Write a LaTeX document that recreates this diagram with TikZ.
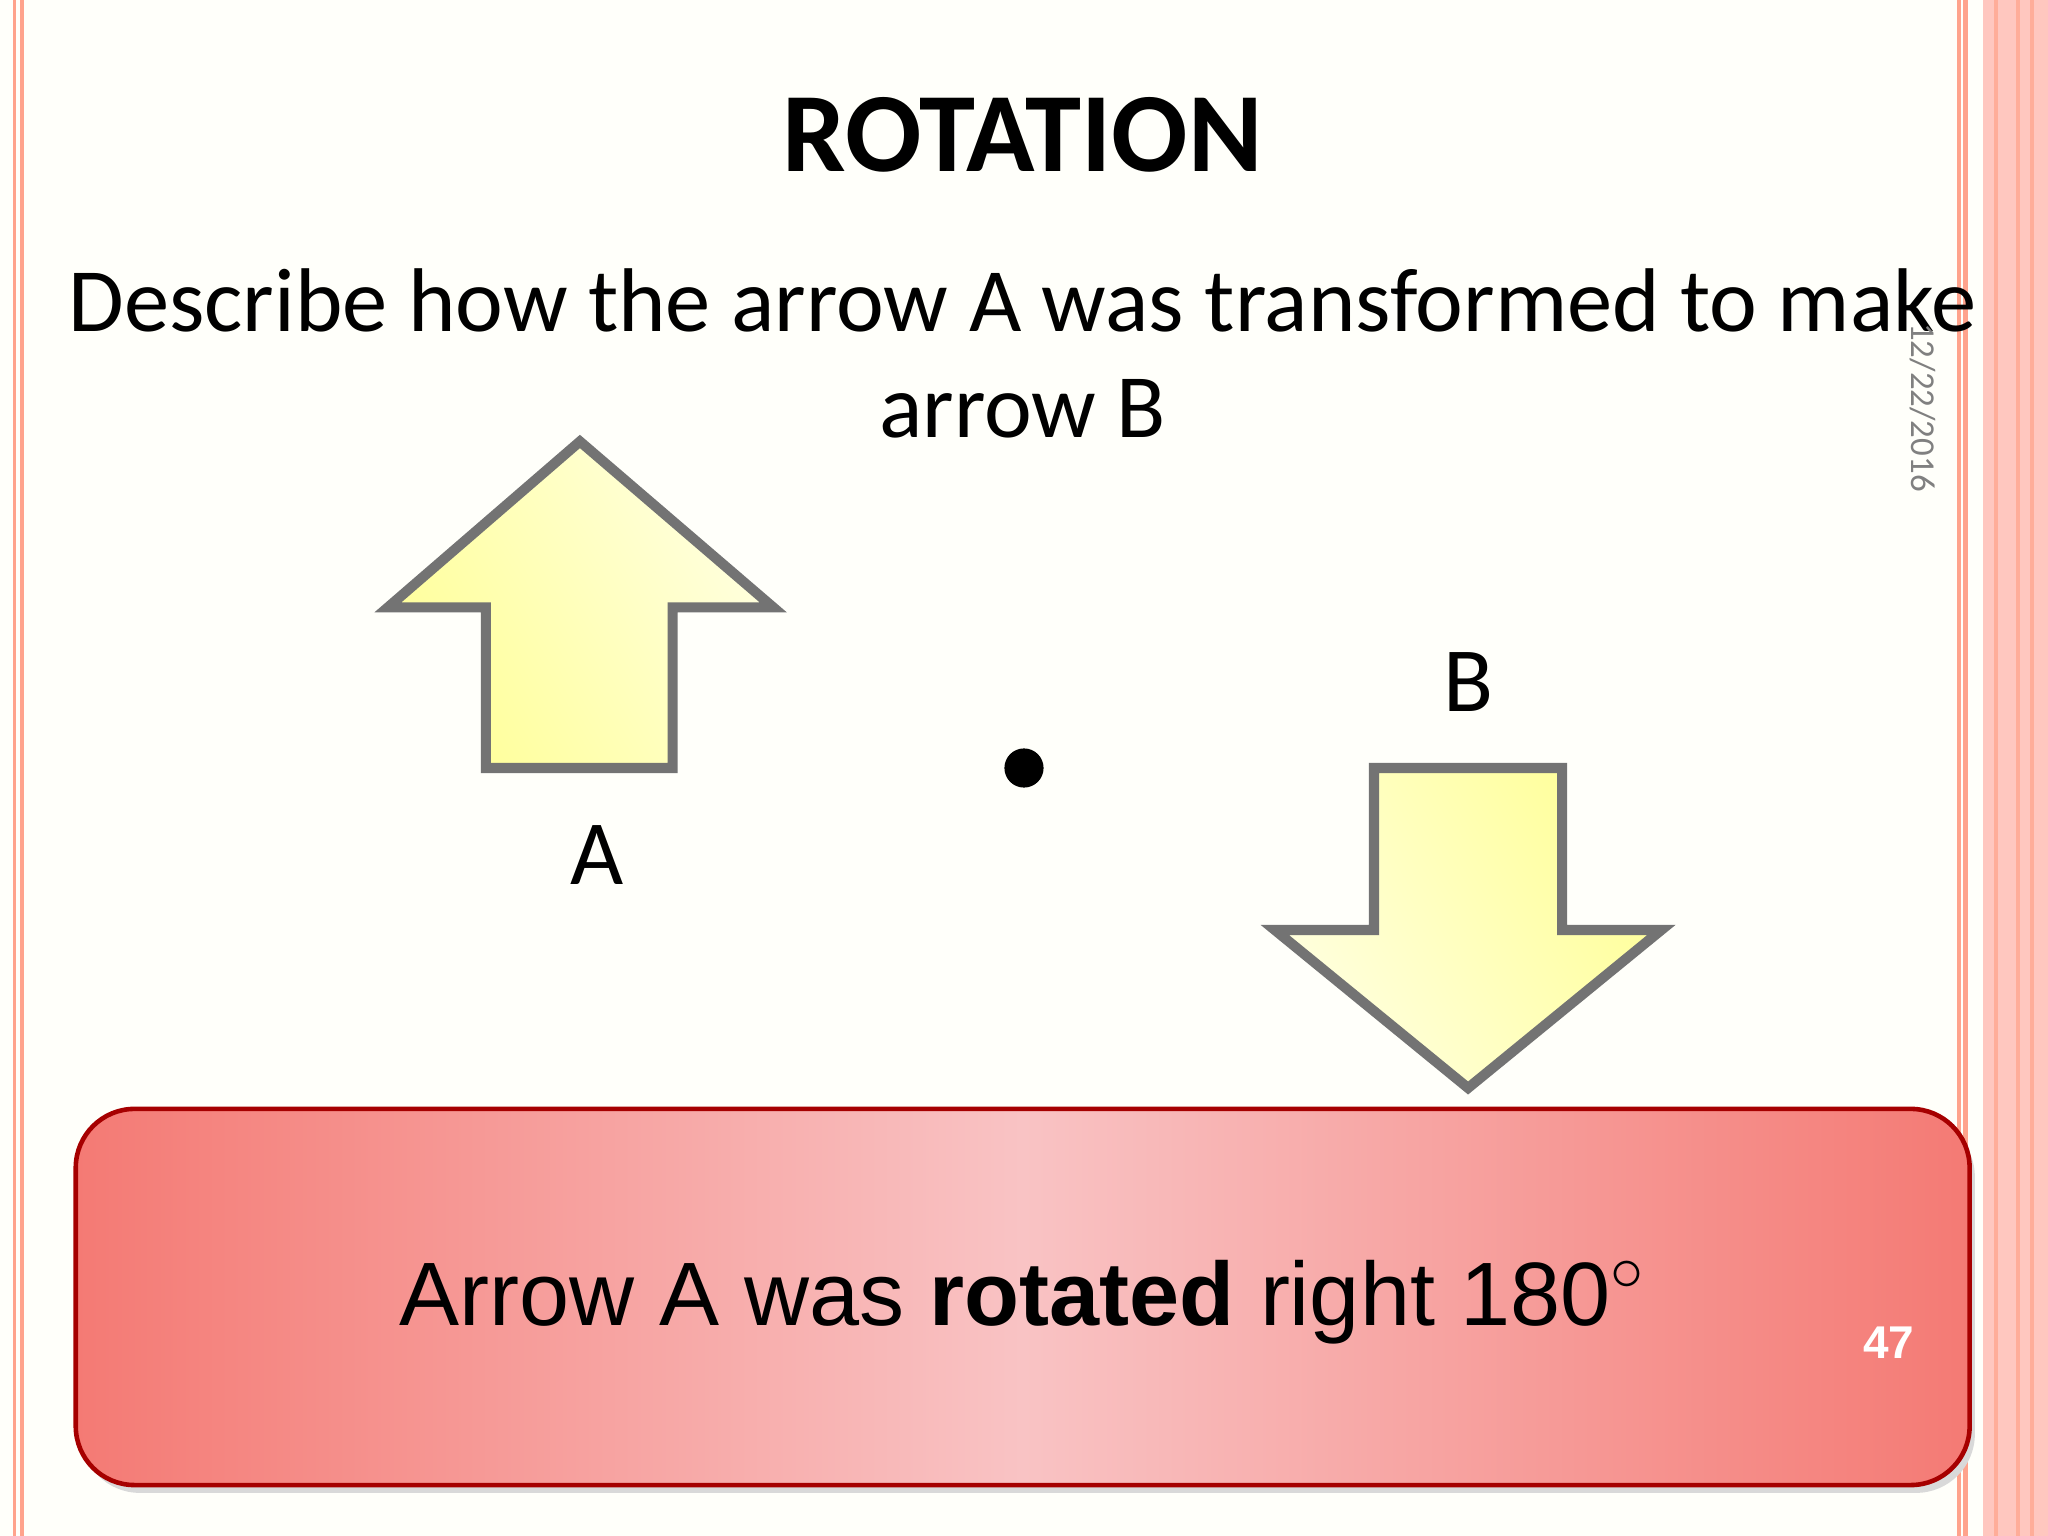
\documentclass[tikz,border=0pt]{standalone}
\usepackage{fontspec}
\setmainfont{Carlito}
\newfontfamily\arialf{Liberation Sans}
\definecolor{boxedge}{HTML}{F47A74}
\definecolor{boxmid}{HTML}{F9C3C4}
\definecolor{yel1}{HTML}{FFFFE0}
\definecolor{yel2}{HTML}{FFFF99}
\begin{document}
\begin{tikzpicture}[x=0.01cm,y=-0.01cm,
  arrowshape/.style={draw=gray!90!black,line width=2.2pt,line join=miter,left color=yel1,right color=yel2,shading angle=-60},
  lbl/.style={font=\fontsize{20}{24}\selectfont,inner sep=0pt}]
\useasboundingbox (0,0) rectangle (1568,1176);
\fill[white!98!yellow] (0,0) rectangle (1568,1176);
% borders
\foreach \x in {11,17}{\draw[orange!40!red!45,line width=0.8pt] (\x,0) -- (\x,1176);}
\foreach \x in {1500,1505}{\draw[orange!40!red!45,line width=1pt] (\x,0) -- (\x,1176);}
\fill[orange!25!red!25!white] (1518,0) rectangle (1568,1176);
\foreach \x in {1528,1545,1556}{\draw[orange!40!red!40!white,line width=0.8pt] (\x,0) -- (\x,1176);}
\node[font=\bfseries\fontsize{24.6}{28}\selectfont,inner sep=0pt] (title) at (783,103) {ROTATION};
\node[lbl,font=\fontsize{19.7}{24}\selectfont] (q1) at (783,230) {Describe how the arrow A was transformed to make};
\node[lbl,font=\fontsize{19.7}{24}\selectfont] (q2) at (783,313) {arrow B};
\node[rotate=-90,text=gray,font=\fontsize{7.6}{9}\selectfont,inner sep=0pt] (date) at (1472,312) {12/22/2016};
% arrow A
\draw[arrowshape] (444,338) -- (297,465) -- (372,465) -- (372,588) -- (515,588) -- (515,465) -- (592,465) -- cycle;
\node[lbl] (A) at (457,655) {A};
% arrow B
\draw[arrowshape,shading angle=120] (1052,588) -- (1196,588) -- (1196,712) -- (1272,712) -- (1124,833) -- (976,712) -- (1052,712) -- cycle;
\node[lbl] (B) at (1124,522) {B};
\fill (784,588) circle (15);
% box
\fill[black!15,rounded corners=0.45cm] (62,856) rectangle (1512,1143);
\shade[left color=boxedge,right color=boxedge,middle color=boxmid,rounded corners=0.45cm]
  (58,849) rectangle (1508,1137);
\draw[red!65!black,line width=1pt,rounded corners=0.45cm] (58,849) rectangle (1508,1137);
\node[inner sep=0pt,font=\arialf\fontsize{19.6}{24}\selectfont] (ans) at (783,997) {Arrow A was \textbf{rotated} right 180$^\circ$};
\node[inner sep=0pt,text=white,font=\arialf\bfseries\fontsize{10}{12}\selectfont] (num) at (1446,1028) {47};
\end{tikzpicture}
\end{document}
